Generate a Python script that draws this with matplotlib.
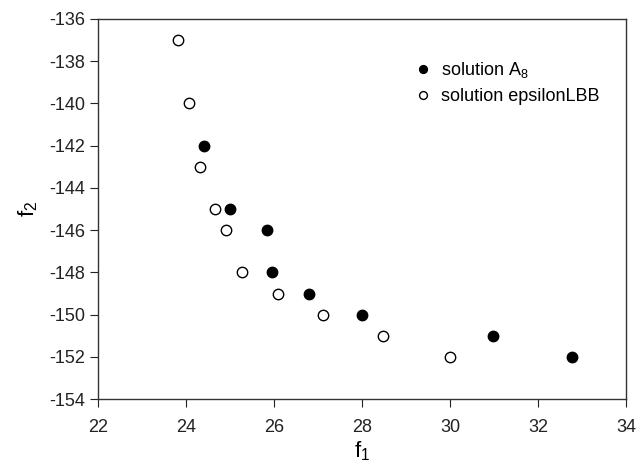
import matplotlib
matplotlib.use("Agg")
import matplotlib.pyplot as plt

plt.rcParams['font.family'] = ['Liberation Sans', 'DejaVu Sans']
plt.rcParams['mathtext.fontset'] = 'custom'
plt.rcParams['mathtext.rm'] = 'Liberation Sans'
plt.rcParams['axes.unicode_minus'] = False

# solution A8 (filled)
a8_f1 = [24.42, 25.01, 25.84, 25.96, 26.79, 28.01, 30.98, 32.77]
a8_f2 = [-142, -145, -146, -148, -149, -150, -151, -152]

# solution epsilonLBB (open)
eps_f1 = [23.83, 24.07, 24.32, 24.67, 24.92, 25.27, 26.09, 27.11, 28.49, 30.01]
eps_f2 = [-137, -140, -143, -145, -146, -148, -149, -150, -151, -152]

fig = plt.figure(figsize=(6.38, 4.63), dpi=100)
ax = fig.add_axes([0.1536, 0.138, 0.8274, 0.821])

ax.plot(a8_f1, a8_f2, 'o', color='black', markersize=7.5, label=r'solution A$_\mathregular{8}$')
ax.plot(eps_f1, eps_f2, 'o', markerfacecolor='white', markeredgecolor='black',
        markeredgewidth=1.0, markersize=7.5, label='solution epsilonLBB')

ax.set_xlim(22, 34)
ax.set_ylim(-154, -136)
ax.set_xticks(range(22, 35, 2))
ax.set_yticks(range(-154, -135, 2))
ax.tick_params(direction='out', length=6, labelsize=13, colors='#222222', top=False, right=False)
ax.tick_params(axis='x', pad=8)
for s in ax.spines.values():
    s.set_linewidth(1.0)
    s.set_color('#333333')

ax.set_xlabel(r'f$_\mathregular{1}$', fontsize=16, labelpad=3)
ax.set_ylabel(r'f$_\mathregular{2}$', fontsize=16, labelpad=6)

leg = ax.legend(loc='upper left', bbox_to_anchor=(0.572, 0.935), frameon=False,
                fontsize=13, markerscale=0.75, handlelength=0.8, handletextpad=0.6,
                labelspacing=0.45)

fig.savefig('out.png', dpi=100)
